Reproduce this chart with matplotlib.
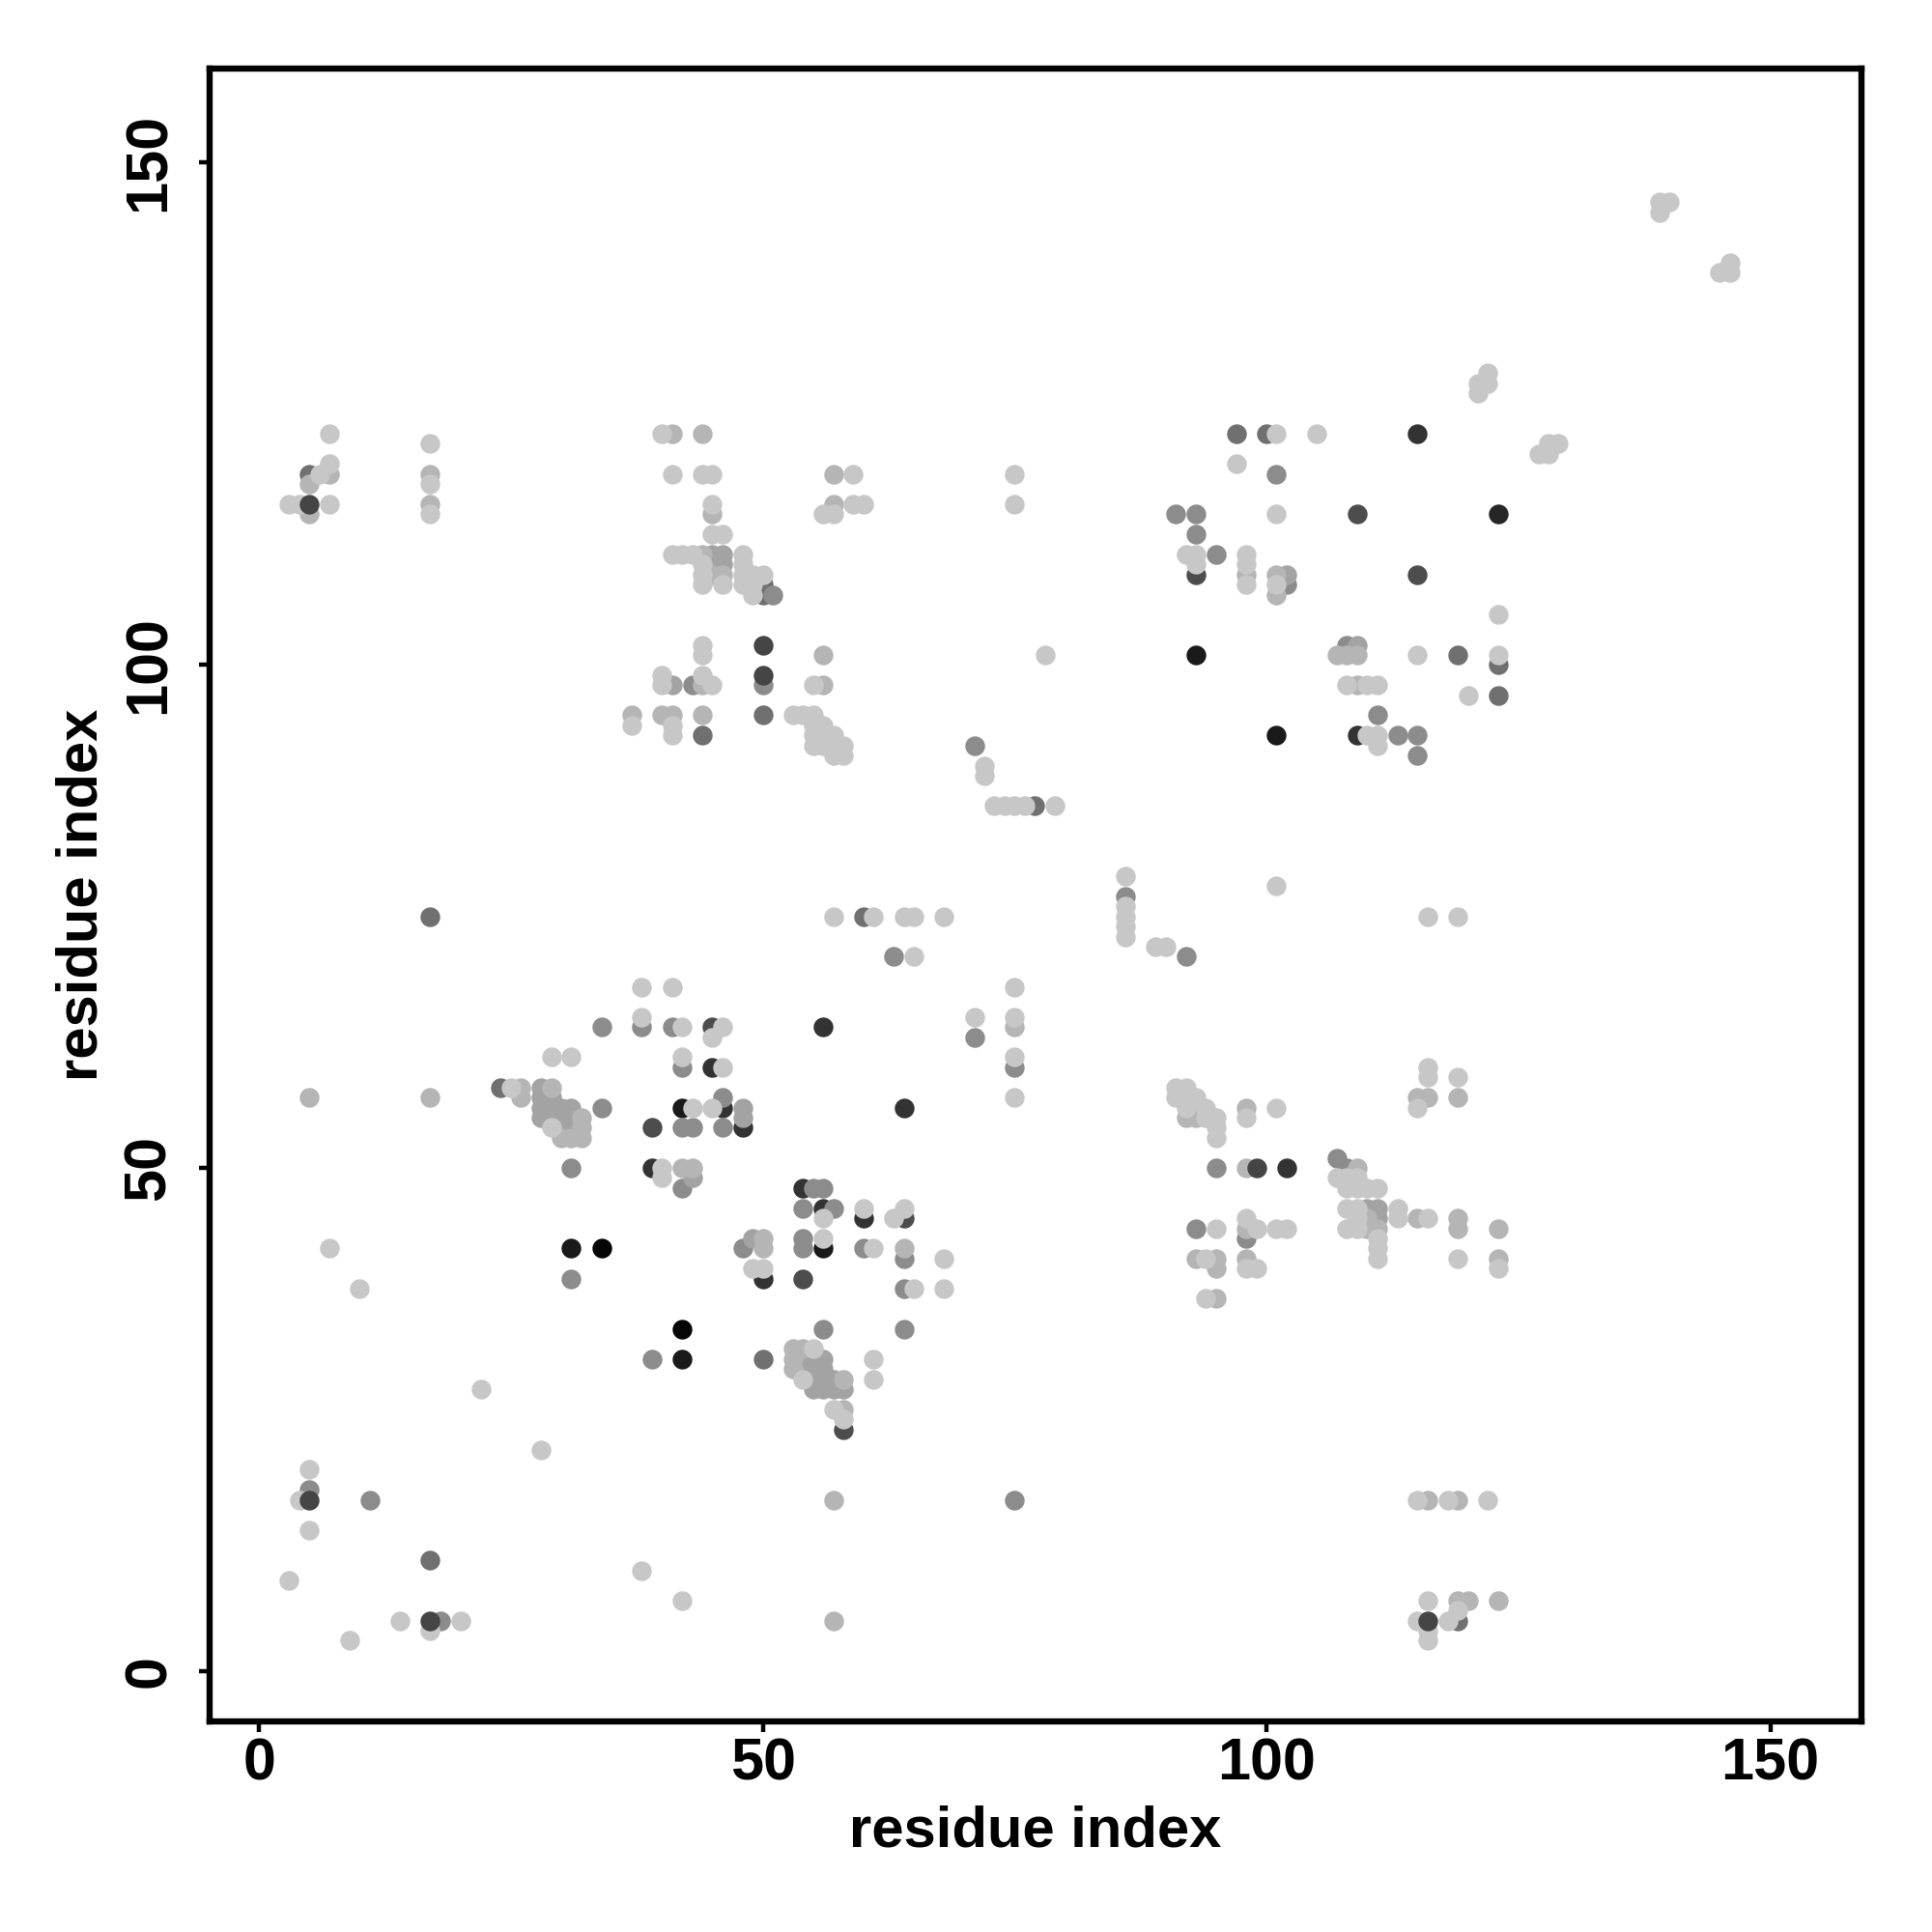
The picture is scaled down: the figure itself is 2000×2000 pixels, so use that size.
import matplotlib
matplotlib.use('Agg')
import matplotlib.pyplot as plt

plt.rcParams['font.family'] = ['Liberation Sans', 'DejaVu Sans']
plt.rcParams['font.weight'] = 'bold'

# residue contacts (i, j), grouped by grey level of the dot
grey_000 = [(34,42),(42,34)]
grey_010 = [(31,42),(42,31),(56,42),(42,56),(93,101),(101,93)]
grey_015 = [(123,115)]
grey_020 = [(115,123),(109,93),(56,64),(64,56),(45,60),(46,56),(48,54),(39,50),(54,48),(56,46),(60,45),(50,39),(102,50)]
grey_030 = [(45,64),(39,54),(64,45),(54,39),(109,115),(93,109),(115,109),(58,24)]
grey_042 = [(24,58),(50,31),(5,119),(17,75),(60,75),(17,11),(119,5),(123,100),(123,97),(77,86),(119,101),(100,123),(97,123),(50,108),(50,107),(44,93),(50,95)]
grey_055 = [(34,64),(38,64),(41,64),(42,60),(46,57),(34,56),(42,54),(43,54),(46,54),(31,50),(31,39),(42,48),(54,46),(57,46),(55,48),(56,48),(48,42),(54,43),(54,42),(60,42),(64,41),(39,31),(56,34),(64,34),(64,38),(5,18),(11,17),(18,5),(75,17),(71,92),(71,63),(75,60),(86,77),(92,71),(63,71),(91,115),(93,115),(93,113),(95,111),(101,119),(102,108),(108,102),(111,95),(113,93),(115,93),(115,91),(107,51),(108,50),(93,44),(95,50),(98,43),(43,98),(50,98),(51,107)]
grey_062 = [(28,58),(28,57),(29,57),(28,56),(29,56),(30,56),(31,56),(28,55),(29,55),(30,55),(31,55),(30,54),(31,54),(48,56),(48,55),(43,49),(49,43),(54,31),(54,30),(55,31),(55,30),(56,31),(56,30),(55,29),(56,29),(57,29),(55,28),(56,28),(57,28),(58,28),(109,102),(102,109),(111,45),(110,46),(111,46),(41,98),(45,111),(46,111),(45,110),(46,110)]
grey_072 = [(26,58),(26,57),(29,58),(32,54),(42,50),(43,50),(50,43),(50,42),(64,42),(41,123),(44,123),(7,119),(17,119),(17,116),(44,111),(46,109),(45,109),(5,118),(5,115),(45,115),(41,95),(40,95),(44,95),(37,95),(56,101),(44,98),(56,98),(57,119),(57,116),(57,5),(57,17),(5,57),(17,57),(53,32),(54,32),(53,31),(53,30),(58,29),(58,26),(32,53),(31,53),(30,53),(32,55),(75,64),(107,101),(108,101),(109,101),(109,98),(101,109),(101,107),(98,109),(92,55),(93,55),(93,56),(98,56),(98,50),(98,44),(98,41),(95,41),(95,40),(95,37),(93,41),(115,45),(119,45),(119,44),(123,44),(123,41),(115,57),(116,57),(119,57),(116,17),(119,17),(119,7),(120,7),(123,7),(109,50),(110,44),(111,44),(110,45)]
grey_080 = [(7,123),(40,123),(4,116),(3,116),(6,119),(7,116),(7,120),(17,122),(17,118),(17,115),(41,119),(44,119),(45,119),(45,116),(45,113),(46,113),(41,111),(42,111),(43,111),(48,111),(48,110),(48,109),(49,109),(50,109),(44,110),(44,109),(44,108),(46,108),(48,108),(49,108),(49,107),
    (44,102),(44,101),(40,99),(44,99),(40,98),(45,98),(55,98),(53,95),(54,95),(55,95),(55,94),(56,94),(37,94),(41,94),(41,93),(55,93),(57,93),(55,92),(56,92),(57,92),(58,92),(57,91),(58,91),
    (59,119),(56,115),(57,115),(59,116),(60,116),(75,119),(75,116),(78,101),(57,75),(61,75),(64,75),(65,75),(68,75),(116,75),(119,75),(65,71),(89,72),(90,72),(86,79),(86,76),(86,75),(86,74),(86,73),(101,78),
    (73,86),(74,86),(75,86),(76,86),(79,86),(72,90),(72,89),(97,120),(101,123),(105,123),(101,115),(92,111),(93,111),(93,110),(98,111),(98,110),(98,108),(101,108),(123,105),(115,101),(123,101),(108,98),(110,98),(111,98),(120,97),(110,93),(111,93),(111,92),
    (139,145),(139,146),(140,146),(145,139),(146,139),(146,140),(121,127),(121,128),(122,128),(122,129),(127,121),(128,121),(128,122),(129,122),
    (38,68),(41,68),(38,65),(42,64),(46,64),(45,63),(29,61),(31,61),(42,61),(46,60),(25,58),(29,54),(40,50),(40,49),(43,56),(45,56),(60,46),(64,46),(56,45),(63,45),(56,43),(61,42),(68,41),(68,38),(65,38),(49,40),(50,40),(61,31),(61,29),(55,32),(54,29),(57,26),(58,25),
    (71,65),(75,68),(75,65),(75,61),(75,57),(7,42),(10,38),(22,28),(28,22),(5,20),(4,17),(5,14),(3,9),(38,10),(42,7),(9,3),(14,5),(17,4),(20,5),(115,17),(118,17),(122,17),(116,7),(119,6),(115,5),(118,5),(116,4),(116,3),
    (91,58),(92,58),(91,57),(92,57),(93,57),(92,56),(94,56),(94,55),(95,55),(95,54),(95,53),(98,55),(101,56),(107,49),(108,49),(109,49),(108,48),(109,48),(110,48),(111,48),(108,46),(109,46),(113,46),(109,45),(113,45),(116,45),(108,44),(109,44),(111,43),(111,42),(111,41),(119,41),(123,40),(95,44),(98,45),(99,44),(101,44),(102,44),(94,41),(98,40),(99,40),(94,37),(116,60),(116,59),(119,59),(115,56)]
# dark dots that sit over their light neighbours
grey_top = [(5,116),(116,5),(99,50),(17,5),(5,17),(50,102),(50,99)]

grey_groups = [grey_080, grey_072, grey_062, grey_055, grey_042, grey_030, grey_020, grey_015, grey_010, grey_000]
grey_levels = [0.78, 0.71, 0.64, 0.55, 0.44, 0.30, 0.20, 0.15, 0.10, 0.02]
x_ticks = [0, 50, 100, 150]
y_ticks = [0, 50, 100, 150]

fig = plt.figure(figsize=(10, 10), dpi=200)
ax = fig.add_axes([0.1085, 0.109, 0.855, 0.8555])

# darkest first, the light dots lie on top in the reference
for pts, g in sorted(zip(grey_groups, grey_levels), key=lambda p: p[1]):
    xs = [p[0] for p in pts]
    ys = [p[1] for p in pts]
    ax.scatter(xs, ys, s=54, color=str(g), linewidths=0, zorder=3)
ax.scatter([p[0] for p in grey_top], [p[1] for p in grey_top], s=54, color='0.27', linewidths=0, zorder=4)

ax.set_xlim(-4.9, 159.06)
ax.set_ylim(-5.03, 159.3)
ax.set_xticks(x_ticks)
ax.set_yticks(y_ticks)
ax.tick_params(axis='both', width=1.6, length=4, labelsize=22)
ax.tick_params(axis='x', pad=2)
ax.tick_params(axis='y', pad=8)
for t in ax.get_yticklabels():
    t.set_rotation(90)
    t.set_va('center')
for s in ax.spines.values():
    s.set_linewidth(2.3)
ax.set_xlabel('residue index', fontsize=21.5, fontweight='bold')
ax.set_ylabel('residue index', fontsize=21.5, fontweight='bold')
ax.xaxis.set_label_coords(0.5, -0.0507)
ax.yaxis.set_label_coords(-0.061, 0.5)

fig.savefig('out.png', dpi=200)
